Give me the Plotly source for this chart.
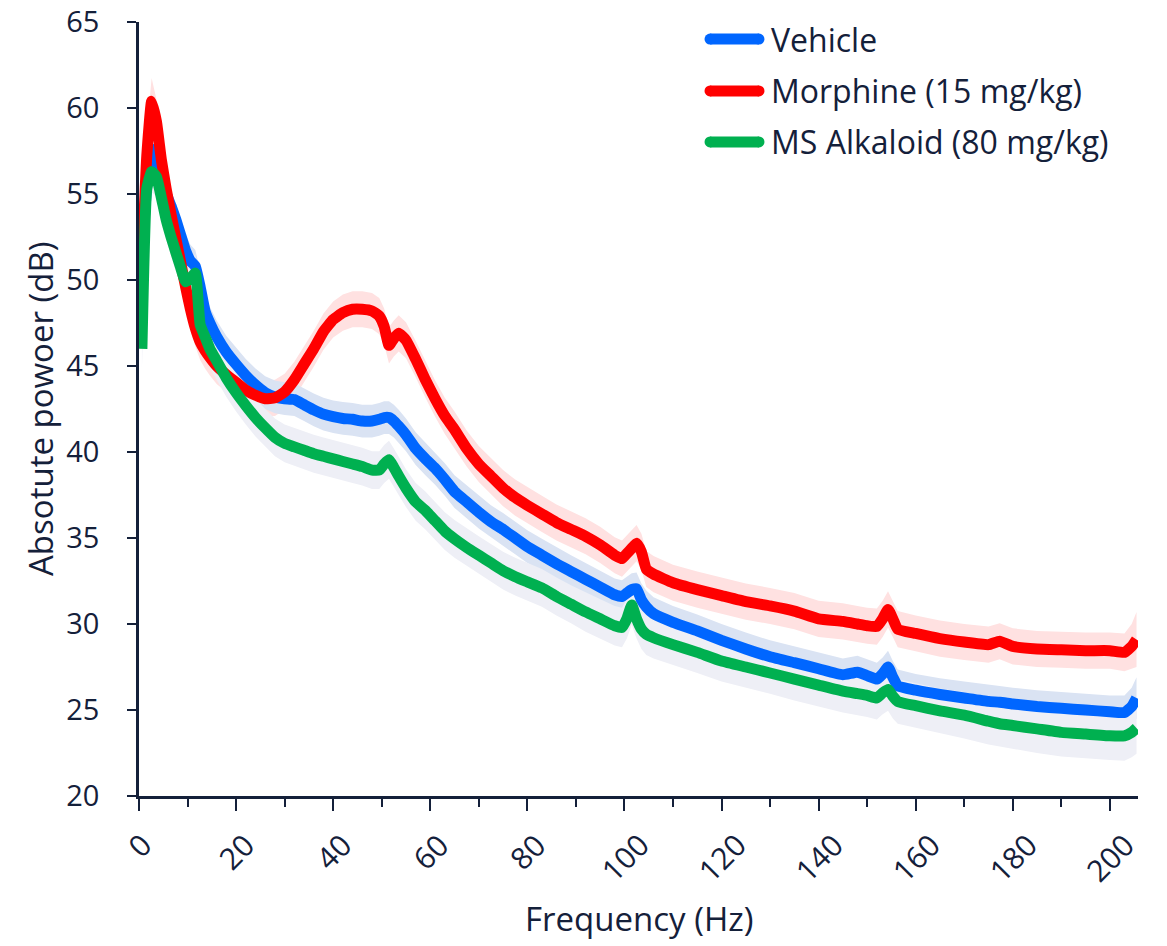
import plotly.graph_objects as go

# Frequency grid (Hz) shared by all groups
freq = [0.6, 1.6, 2.6, 3.6, 4.6, 5.6, 6.6, 7.6, 8.6, 9.6,
        10.6, 11.6, 12.6, 13.6, 14.6, 16, 18, 20, 22, 24,
        26, 28, 30, 32, 34, 36, 38, 40, 42, 44,
        46, 48, 49.5, 50.5, 51.5, 52.5, 53.5, 55, 57, 59,
        61, 63, 65, 67.5, 70, 72.5, 75, 77.5, 80, 83,
        86, 89, 92, 95, 98, 99.5, 100.5, 101.5, 102.5, 103.5,
        104.5, 106, 110, 115, 120, 125, 130, 135, 140, 145,
        148, 150, 152, 153.2, 154.3, 155.3, 156.3, 160, 165, 170,
        175, 177.3, 180, 185, 190, 195, 200, 203, 204.5, 205.5]

# Mean absolute power (dB)
vehicle = [51.5, 55.5, 57.6, 56.8, 55.8, 55.0, 54.3, 53.5, 52.6, 51.7,
           51.1, 50.8, 49.6, 48.2, 47.5, 46.7, 45.8, 45.1, 44.45, 43.9,
           43.45, 43.2, 43.1, 43.05, 42.75, 42.45, 42.2, 42.05, 41.95, 41.9,
           41.8, 41.8, 41.9, 42.0, 42.0, 41.8, 41.5, 41.0, 40.2, 39.6,
           39.05, 38.4, 37.7, 37.1, 36.5, 35.95, 35.5, 35.0, 34.5, 34.0,
           33.5, 33.05, 32.6, 32.15, 31.7, 31.6, 31.8, 32.0, 32.05, 31.4,
           31.0, 30.6, 30.1, 29.6, 29.05, 28.55, 28.1, 27.75, 27.4, 27.05,
           27.2, 27.0, 26.8, 27.1, 27.5, 26.9, 26.4, 26.15, 25.9, 25.7,
           25.5, 25.45, 25.35, 25.2, 25.1, 25.0, 24.9, 24.85, 25.2, 25.7]

morphine = [50.8, 57.2, 60.4, 59.2, 57.0, 55.3, 53.8, 52.4, 51.0, 49.6,
            48.3, 47.2, 46.4, 45.9, 45.5, 45.0, 44.5, 44.05, 43.6, 43.3,
            43.1, 43.15, 43.5, 44.2, 45.1, 46.0, 47.0, 47.7, 48.1, 48.3,
            48.3, 48.2, 47.9, 47.3, 46.2, 46.6, 46.9, 46.5, 45.4, 44.2,
            43.1, 42.1, 41.3, 40.2, 39.3, 38.6, 37.9, 37.35, 36.9, 36.4,
            35.9, 35.5, 35.1, 34.6, 34.0, 33.8, 34.1, 34.4, 34.7, 34.2,
            33.2, 32.9, 32.4, 32.0, 31.65, 31.3, 31.05, 30.75, 30.3, 30.15,
            30.0, 29.9, 29.85, 30.3, 30.85, 30.3, 29.7, 29.45, 29.15, 28.95,
            28.8, 29.0, 28.7, 28.55, 28.5, 28.45, 28.45, 28.35, 28.7, 29.1]

alkaloid = [46.0, 55.3, 56.3, 56.0, 54.8, 53.5, 52.5, 51.6, 50.7, 49.9,
            50.1, 50.4, 47.4, 46.7, 46.0, 45.3, 44.3, 43.45, 42.7, 42.0,
            41.4, 40.85, 40.5, 40.3, 40.1, 39.9, 39.75, 39.6, 39.45, 39.3,
            39.15, 38.95, 38.95, 39.3, 39.55, 39.1, 38.6, 37.9, 37.1, 36.6,
            36.0, 35.4, 34.95, 34.45, 34.0, 33.55, 33.1, 32.75, 32.45, 32.1,
            31.6, 31.15, 30.7, 30.3, 29.9, 29.8, 30.3, 31.1, 30.3, 29.7,
            29.4, 29.2, 28.8, 28.35, 27.85, 27.5, 27.15, 26.8, 26.45, 26.1,
            25.95, 25.85, 25.7, 26.0, 26.2, 25.8, 25.5, 25.25, 24.95, 24.7,
            24.35, 24.2, 24.1, 23.9, 23.7, 23.6, 23.5, 23.5, 23.7, 23.95]

# Standard error of the mean (dB)
sem_vehicle = [1.2, 1.2, 1.1, 1.1, 1.0, 1.0, 1.0, 0.95, 0.95, 0.95,
               0.95, 0.95, 0.95, 0.95, 0.95, 0.95, 0.95, 0.95, 0.95, 0.95,
               0.95, 0.95, 0.95, 0.95, 0.95, 0.95, 0.95, 0.95, 0.95, 0.95,
               0.95, 0.95, 0.95, 0.95, 0.95, 0.95, 0.95, 0.95, 0.95, 0.95,
               0.95, 0.95, 0.95, 0.95, 0.95, 0.95, 0.95, 0.95, 0.95, 0.95,
               0.95, 0.95, 0.95, 0.95, 0.95, 0.95, 0.95, 0.95, 0.95, 0.95,
               0.95, 0.95, 0.95, 0.95, 0.95, 0.95, 0.95, 0.95, 0.95, 0.95,
               0.95, 0.95, 0.95, 0.95, 0.95, 0.95, 0.95, 0.95, 0.95, 0.95,
               0.95, 0.95, 0.95, 0.95, 0.95, 0.95, 0.95, 1.0, 1.1, 1.2]

sem_morphine = [1.4, 1.4, 1.35, 1.3, 1.2, 1.1, 1.1, 1.05, 1.05, 1.05,
                1.05, 1.05, 1.05, 1.05, 1.05, 1.05, 1.05, 1.05, 1.05, 1.05,
                1.05, 1.05, 1.05, 1.05, 1.05, 1.05, 1.05, 1.05, 1.05, 1.05,
                1.05, 1.05, 1.05, 1.05, 1.05, 1.05, 1.05, 1.05, 1.05, 1.05,
                1.05, 1.05, 1.05, 1.05, 1.05, 1.05, 1.05, 1.05, 1.05, 1.05,
                1.05, 1.05, 1.05, 1.05, 1.05, 1.05, 1.05, 1.05, 1.05, 1.05,
                1.05, 1.05, 1.05, 1.05, 1.05, 1.05, 1.05, 1.05, 1.05, 1.05,
                1.05, 1.05, 1.05, 1.05, 1.05, 1.05, 1.05, 1.05, 1.05, 1.05,
                1.05, 1.05, 1.05, 1.05, 1.05, 1.05, 1.05, 1.1, 1.3, 1.6]

sem_alkaloid = [1.2, 1.2, 1.2, 1.15, 1.1, 1.1, 1.1, 1.1, 1.1, 1.1,
                1.1, 1.1, 1.1, 1.1, 1.1, 1.1, 1.1, 1.1, 1.1, 1.1,
                1.1, 1.1, 1.1, 1.1, 1.1, 1.1, 1.1, 1.1, 1.1, 1.1,
                1.1, 1.1, 1.1, 1.1, 1.1, 1.1, 1.1, 1.1, 1.1, 1.1,
                1.1, 1.1, 1.1, 1.1, 1.1, 1.1, 1.1, 1.1, 1.1, 1.1,
                1.1, 1.1, 1.15, 1.15, 1.15, 1.15, 1.15, 1.15, 1.15, 1.15,
                1.2, 1.2, 1.2, 1.2, 1.2, 1.2, 1.2, 1.25, 1.25, 1.25,
                1.25, 1.25, 1.25, 1.25, 1.25, 1.3, 1.3, 1.3, 1.3, 1.35,
                1.35, 1.35, 1.35, 1.4, 1.4, 1.4, 1.4, 1.45, 1.45, 1.5]

group_names = ["Vehicle", "Morphine (15 mg/kg)", "MS Alkaloid (80 mg/kg)"]
x_tick_values = list(range(0, 201, 20))
x_tick_labels = [str(v) for v in x_tick_values]
y_tick_values = list(range(20, 66, 5))

INK = "#14203a"
FONT = "Open Sans"

groups = {
    "Vehicle": dict(y=vehicle, sem=sem_vehicle, line="#0066ff", band="#dae3f3"),
    "Morphine (15 mg/kg)": dict(y=morphine, sem=sem_morphine, line="#ff0000", band="#ffe1e1"),
    "MS Alkaloid (80 mg/kg)": dict(y=alkaloid, sem=sem_alkaloid, line="#00b050", band="#eeeff6"),
}

fig = go.Figure()

# SEM bands underneath all mean lines
for name in ["Morphine (15 mg/kg)", "Vehicle", "MS Alkaloid (80 mg/kg)"]:
    g = groups[name]
    upper = [m + s for m, s in zip(g["y"], g["sem"])]
    lower = [m - s for m, s in zip(g["y"], g["sem"])]
    fig.add_trace(go.Scatter(
        x=freq + freq[::-1], y=upper + lower[::-1],
        fill="toself", fillcolor=g["band"], line=dict(width=0),
        mode="lines", hoverinfo="skip", showlegend=False,
    ))

# Mean spectra
for name in ["Vehicle", "Morphine (15 mg/kg)", "MS Alkaloid (80 mg/kg)"]:
    g = groups[name]
    fig.add_trace(go.Scatter(
        x=freq, y=g["y"], mode="lines", name=name,
        line=dict(color=g["line"], width=11, shape="spline", smoothing=0.4),
        showlegend=False,
    ))

# Legend drawn inside the plot area (top right): thick line with rounded ends
legend_y = [0.978, 0.911, 0.845]
cap_x = [0.5716, 0.6206]
rx, ry = 5.5 / 999, 5.5 / 773.7
for name, ly in zip(group_names, legend_y):
    color = groups[name]["line"]
    fig.add_shape(type="line", xref="paper", yref="paper",
                  x0=cap_x[0], x1=cap_x[1], y0=ly, y1=ly,
                  line=dict(color=color, width=11))
    for cx in cap_x:
        fig.add_shape(type="circle", xref="paper", yref="paper",
                      x0=cx - rx, x1=cx + rx, y0=ly - ry, y1=ly + ry,
                      fillcolor=color, line=dict(width=0))
    fig.add_annotation(text=name, xref="paper", yref="paper",
                       x=0.6306, y=ly, xanchor="left", yanchor="middle",
                       showarrow=False, font=dict(family=FONT, size=32, color=INK))

# Rotated x tick labels centred under each tick
for v, lab in zip(x_tick_values, x_tick_labels):
    fig.add_annotation(text=lab, xref="x", yref="paper", x=v, y=0,
                       yshift=-26, xanchor="center", yanchor="top",
                       textangle=-45, showarrow=False,
                       font=dict(family=FONT, size=30, color=INK))

# Axis titles
fig.add_annotation(text="Frequency (Hz)", xref="paper", yref="paper",
                   x=0.5, y=0, yshift=-122, xanchor="center", yanchor="middle",
                   showarrow=False, font=dict(family=FONT, size=33, color=INK))
fig.add_annotation(text="Absotute powoer (dB)", xref="paper", yref="paper",
                   x=0, y=0.5, xshift=-99, xanchor="center", yanchor="middle",
                   textangle=-90, showarrow=False,
                   font=dict(family=FONT, size=33, color=INK))

fig.update_layout(
    width=1167, height=946,
    margin=dict(l=139, r=29, t=22, b=150, autoexpand=False),
    paper_bgcolor="white", plot_bgcolor="white",
    font=dict(family=FONT, color=INK),
    showlegend=False,
)

fig.update_xaxes(
    range=[0, 205.8], showgrid=False, zeroline=False, automargin=False,
    showline=True, linecolor=INK, linewidth=2.5,
    tickmode="linear", tick0=0, dtick=20,
    ticks="outside", ticklen=12, tickwidth=2, tickcolor=INK,
    showticklabels=False,
    minor=dict(tick0=0, dtick=10, ticks="outside", ticklen=8,
               tickwidth=2, tickcolor=INK, showgrid=False),
)

fig.update_yaxes(
    range=[20, 65], showgrid=False, zeroline=False, automargin=False,
    showline=True, linecolor=INK, linewidth=2.5,
    tickmode="array", tickvals=y_tick_values,
    ticks="outside", ticklen=9, tickwidth=2, tickcolor=INK,
    ticklabelstandoff=22,
    tickfont=dict(family=FONT, size=29, color=INK),
)

fig.write_html("out.html")
